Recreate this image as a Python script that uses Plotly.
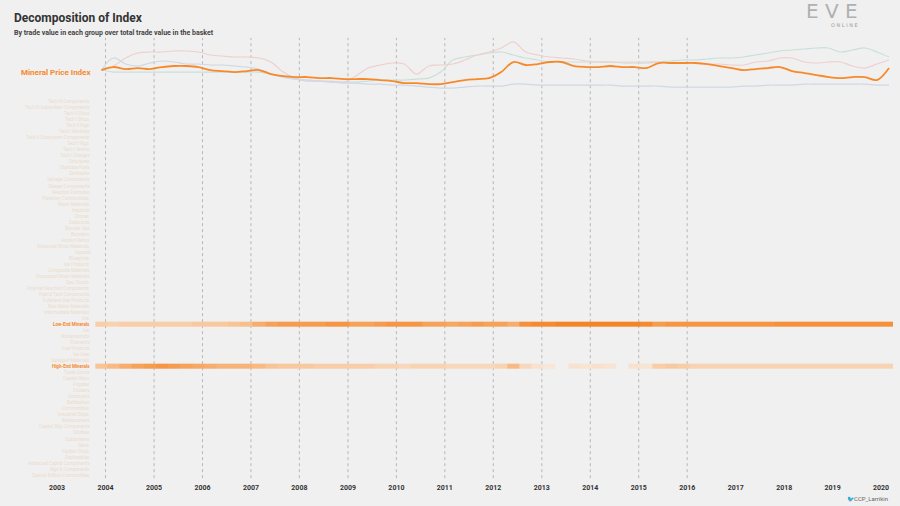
import plotly.graph_objects as go
import pandas as pd

dates = pd.date_range("2003-11-15", periods=66, freq="3MS")

mineral_index = [30,33,31,32,31,33,34,34,33,30,29,28,29,30,26,24,23,23,22,22,21,21,21,20,19,17,17,16,16,18,20,21,22,28,38,35,36,38,38,34,33,33,34,33,33,32,37,37,37,37,36,34,32,30,31,32,33,29,27,25,23,22,23,23,20,32]
pink_series = [30,34,42,47,48,48,49,49,48,45,44,43,43,42,38,28,22,20,19,19,18,24,32,35,37,36,26,34,35,36,40,45,48,52,58,48,45,43,42,41,39,38,38,38,38,38,38,37,37,37,36,36,35,35,38,39,42,42,38,37,38,38,34,32,36,40]
blue_series = [30,42,36,34,37,39,38,36,36,35,35,34,33,31,26,23,21,19,19,18,17,17,16,16,15,15,14,13,12,12,13,14,14,14,16,16,15,15,15,15,15,15,15,14,14,14,14,13,13,13,13,13,13,14,14,15,15,15,16,16,16,16,16,16,15,15]
teal_series = [30,28,28,28,28,28,28,28,28,28,28,28,28,28,26,23,21,20,19,18,18,18,19,20,20,20,21,22,28,40,43,45,47,48,45,42,40,38,38,38,38,38,38,37,37,37,38,39,40,40,41,42,42,43,45,47,49,50,51,52,52,48,50,52,48,43]

low_end = [.3,.25,.3,.3,.3,.3,.3,.3,.35,.35,.35,.4,.45,.6,.7,.75,.75,.75,.75,.8,.8,.7,.7,.75,.8,.8,.8,.7,.7,.65,.7,.75,.7,.7,.6,.85,.9,.9,.95,.95,.95,.95,.95,.95,.95,.9,.75,.8,.8,.8,.8,.8,.8,.8,.8,.8,.85,.85,.85,.85,.85,.85,.85,.85,.85,.85]
high_end = [.4,.5,.6,.7,.75,.8,.75,.7,.65,.6,.55,.55,.55,.5,.4,.35,.35,.35,.3,.3,.3,.3,.3,.25,.25,.2,.25,.25,.25,.2,.2,.2,.2,.25,.5,.2,.1,.05,None,.1,.08,.12,.08,None,.1,.08,.3,.35,.3,.25,.25,.25,.25,.25,.25,.25,.25,.25,.25,.25,.25,.25,.25,.25,.25,.25]

categories = ["Tech III Components","Tech III Subsystem Components","Tech II Ships","Tech I Ships","Tech II Rigs","Tech I Modules","Tech II Subsystem Components","Tech I Rigs","Tech I Ammo","Tech I Charges","Structures","Starbase Fuels","Skillbooks","Salvage Components","Sleeper Components","Reaction Formulas","Planetary Commodities","Moon Materials","Implants","Drones","Datacores","Booster Gas","Boosters","Ancient Relics","Advanced Moon Materials","Apparel","Blueprints","Ice Products","Composite Materials","Processed Moon Materials","Gas Clouds","Polymer Reaction Components","Hybrid Tech Components","Fullerene Gas Products","Raw Moon Materials","Intermediate Materials","Ore","Low-End Minerals","Ice","Mutaplasmids","Filaments","Fuel Products","Ice Ores","Salvaged Materials","High-End Minerals","Trade Goods","Capital Ships","Frigates","Cruisers","Destroyers","Battleships","Commodities","Industrial Ships","Battlecruisers","Capital Ship Components","Shuttles","Subsystems","Skins","Faction Ships","Deployables","Advanced Capital Components","Rigs & Components","Special Edition Commodities"]

hl = {"Low-End Minerals": low_end, "High-End Minerals": high_end}
z = [hl.get(c, [None]*len(dates)) for c in categories]

bg = "#f0f0f0"
orange = "#f7892a"
FONT = "Liberation Sans Narrow, Roboto"
fig = go.Figure()
fig.add_trace(go.Scatter(x=dates, y=teal_series, mode="lines", line=dict(color="#c9e0da", width=1.2, shape="spline"), xaxis="x", yaxis="y", showlegend=False))
fig.add_trace(go.Scatter(x=dates, y=pink_series, mode="lines", line=dict(color="#efcfcf", width=1.2, shape="spline"), xaxis="x", yaxis="y", showlegend=False))
fig.add_trace(go.Scatter(x=dates, y=blue_series, mode="lines", line=dict(color="#cfd8e4", width=1.2, shape="spline"), xaxis="x", yaxis="y", showlegend=False))
fig.add_trace(go.Scatter(x=dates, y=mineral_index, mode="lines", line=dict(color=orange, width=1.8, shape="spline"), xaxis="x", yaxis="y", showlegend=False))
fig.add_trace(go.Heatmap(x=dates, y=categories, z=z, xaxis="x2", yaxis="y2", zmin=0, zmax=1,
    colorscale=[[0, "#f8ece2"], [0.5, "#f8b982"], [1, "#f47f1c"]], showscale=False, ygap=1))

D0, D1 = 0.055, 0.805
xr = ["2001-10-28", "2020-03-31"]
fig.update_layout(
    width=900, height=506, paper_bgcolor=bg, plot_bgcolor=bg,
    margin=dict(l=0, r=7, t=0, b=0),
    font=dict(family=FONT, color="#333"),
    xaxis=dict(domain=[0, 1], range=xr, showgrid=False, showticklabels=False, zeroline=False, anchor="y"),
    yaxis=dict(domain=[0.818, 0.925], range=[8, 62], visible=False),
    xaxis2=dict(domain=[0, 1], range=xr, showgrid=False, zeroline=False, anchor="y2", automargin=False,
                tickvals=[f"{y}-01-01" for y in range(2003, 2021)], ticktext=[f"<b>{y}</b>" for y in range(2003, 2021)],
                tickfont=dict(size=7, color="#333"), ticklen=0, ticklabelstandoff=4),
    yaxis2=dict(domain=[D0, D1], autorange="reversed", visible=False, type="category"),
)
for yr in range(2004, 2017):
    fig.add_shape(type="line", xref="x2", yref="paper", x0=f"{yr}-01-01", x1=f"{yr}-01-01", y0=D0, y1=0.925,
                  line=dict(color="#aaaaaa", width=0.8, dash="dot"), layer="below")
n = len(categories)
for i, c in enumerate(categories):
    big = c in hl
    fig.add_annotation(xref="paper", yref="paper", x=93/900, y=D1 - (i + 0.5) * (D1 - D0) / n,
                       text=f"<b>{c}</b>" if big else c, showarrow=False, xanchor="right", yanchor="middle",
                       font=dict(size=4.5, color=orange if big else "#ecdccb"))
fig.add_annotation(xref="paper", yref="paper", x=94/900, y=1 - 72/506, text="<b>Mineral Price Index</b>", showarrow=False,
                   xanchor="right", yanchor="middle", font=dict(size=8, color=orange))
fig.add_annotation(xref="paper", yref="paper", x=12/900, y=1 - 18/506, text="<b>Decomposition of Index</b>", showarrow=False,
                   xanchor="left", yanchor="middle", font=dict(size=12, color="#333"))
fig.add_annotation(xref="paper", yref="paper", x=12/900, y=1 - 33/506, text="<b>By trade value in each group over total trade value in the basket</b>", showarrow=False,
                   xanchor="left", yanchor="middle", font=dict(size=7, color="#444"))
fig.add_annotation(xref="paper", yref="paper", x=867/900, y=1 - 11/506, text="E V E", showarrow=False, yanchor="middle",
                   font=dict(size=20, color="#b0b0b0", family="DejaVu Sans"))
fig.add_annotation(xref="paper", yref="paper", x=867/900, y=1 - 25/506, text="O N L I N E", showarrow=False, yanchor="middle",
                   font=dict(size=5, color="#a0a0a0", family="DejaVu Sans"))
fig.add_annotation(xref="paper", yref="paper", x=897/900, y=1 - 499/506, text="<span style='color:#4aa3df'>🐦</span>CCP_Larrikin", showarrow=False,
                   xanchor="right", yanchor="middle", font=dict(size=6, color="#666"))
fig.write_html("out.html", config={"displayModeBar": False}, post_script="document.body.style.margin='0';")
